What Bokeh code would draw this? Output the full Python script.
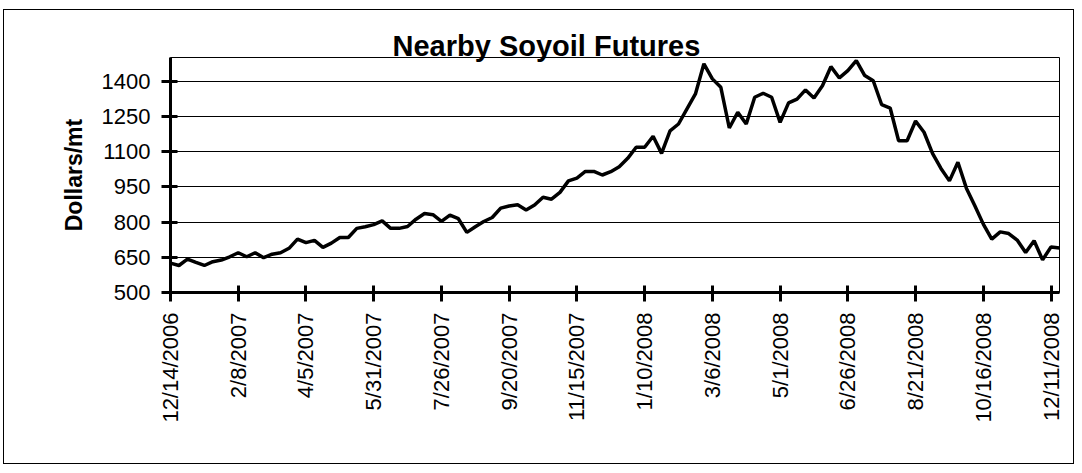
import math
from bokeh.plotting import figure
from bokeh.models import FixedTicker, Range1d
from bokeh.embed import file_html
from bokeh.resources import INLINE

title_text = "Nearby Soyoil Futures"
y_label = "Dollars/mt"

# weekly observations, week 0 = 12/14/2006
week_index = list(range(106))
prices = [
    625, 615, 642, 628, 615, 631, 638, 652, 669, 652,
    669, 648, 663, 669, 688, 727, 712, 722, 692, 710,
    734, 734, 773, 780, 789, 805, 773, 773, 781, 812,
    836, 831, 803, 829, 814, 756, 780, 802, 819, 859,
    868, 873, 851, 872, 905, 897, 926, 975, 987, 1015,
    1015, 1000, 1014, 1035, 1071, 1118, 1118, 1165, 1092, 1188,
    1217, 1281, 1345, 1473, 1409, 1373, 1200, 1267, 1217, 1331,
    1348, 1331, 1224, 1307, 1323, 1362, 1328, 1380, 1461, 1413,
    1444, 1487, 1423, 1401, 1299, 1285, 1146, 1146, 1230, 1182,
    1092, 1028, 975, 1054, 944, 869, 791, 727, 758, 751,
    723, 670, 720, 639, 694, 689,
]

tick_weeks = [0, 8, 16, 24, 32, 40, 48, 56, 64, 72, 80, 88, 96, 104]
tick_labels = ["12/14/2006", "2/8/2007", "4/5/2007", "5/31/2007", "7/26/2007",
               "9/20/2007", "11/15/2007", "1/10/2008", "3/6/2008", "5/1/2008",
               "6/26/2008", "8/21/2008", "10/16/2008", "12/11/2008"]
y_ticks = [500, 650, 800, 950, 1100, 1250, 1400]

FONT = "Liberation Sans"

p = figure(width=1071, height=455, output_backend="svg", toolbar_location=None,
           x_range=Range1d(0, 105), y_range=Range1d(500, 1500),
           min_border_left=166, min_border_right=16, min_border_top=47,
           min_border_bottom=173)
p.background_fill_color = "white"
p.border_fill_color = "white"
p.outline_line_color = "black"
p.outline_line_width = 1
p.styles = {"border": "1px solid black", "margin-left": "3px", "margin-top": "9px"}

p.title.text = title_text
p.title.align = "left"
p.title.offset = 222
p.title.text_font = FONT
p.title.text_font_style = "bold"
p.title.text_font_size = "29px"
p.title.text_color = "black"
p.title.vertical_align = "bottom"
p.title.standoff = -9

p.xgrid.visible = False
p.ygrid.ticker = FixedTicker(ticks=y_ticks)
p.ygrid.grid_line_color = "black"
p.ygrid.grid_line_width = 1

for ax in (p.xaxis[0], p.yaxis[0]):
    ax.axis_line_color = "black"
    ax.axis_line_width = 3
    ax.major_tick_line_color = "black"
    ax.major_tick_line_width = 3
    ax.major_tick_in = 7
    ax.major_tick_out = 9
    ax.minor_tick_line_color = None
    ax.major_label_text_font = FONT
    ax.major_label_text_font_size = "22px"
    ax.major_label_text_color = "black"
    ax.major_label_standoff = 11

p.xaxis.ticker = FixedTicker(ticks=tick_weeks)
p.xaxis.major_label_overrides = {w: s for w, s in zip(tick_weeks, tick_labels)}
p.xaxis.major_label_orientation = math.pi / 2

p.yaxis.ticker = FixedTicker(ticks=y_ticks)
p.yaxis.axis_label = y_label
p.yaxis.axis_label_text_font = FONT
p.yaxis.axis_label_text_font_style = "bold"
p.yaxis.axis_label_text_font_size = "23px"
p.yaxis.axis_label_text_color = "black"
p.yaxis.axis_label_standoff = 12

p.line(week_index, prices, line_color="black", line_width=3.5)

open("out.html", "w").write(file_html(p, INLINE))
